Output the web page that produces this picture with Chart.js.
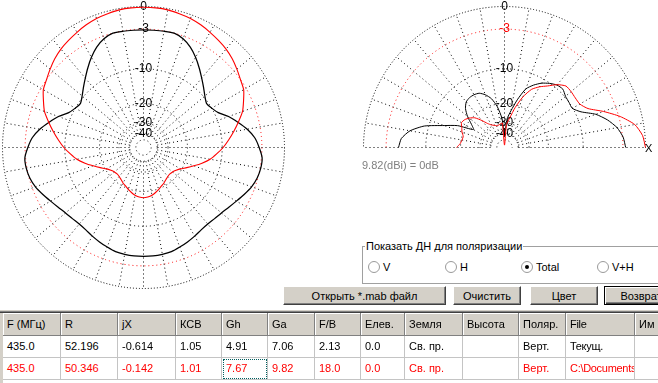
<!DOCTYPE html>
<html>
<head>
<meta charset="utf-8">
<script src="https://cdn.jsdelivr.net/npm/chart.js@4.4.1/dist/chart.umd.min.js"></script>
<style>
  html, body { margin: 0; padding: 0; }
  body { width: 658px; height: 383px; background: #fff; overflow: hidden; position: relative;
         font-family: "Liberation Sans", Arial, sans-serif; font-size: 11px; color: #000; }
  .abs { position: absolute; white-space: nowrap; }
  canvas { position: absolute; }
  .btn { position: absolute; height: 19px; line-height: 19px; text-align: center; background: #d4d0c8;
         box-sizing: border-box; border: 1px solid; border-color: #ffffff #404040 #404040 #ffffff;
         box-shadow: inset -1px -1px 0 #808080; }
  .btn.def { border: 1px solid #000; box-shadow: inset 1px 1px 0 #fff, inset -1px -1px 0 #404040, inset -2px -2px 0 #808080; }
  .radio { position: absolute; width: 12px; height: 12px; box-sizing: border-box; border-radius: 50%;
           border: 1px solid #9a9a9a; background: #fff; }
  .radio.on::after { content: ""; position: absolute; left: 3px; top: 3px; width: 4px; height: 4px; border-radius: 50%; background: #000; }
  .cell { position: absolute; box-sizing: border-box; overflow: hidden; white-space: nowrap; padding-left: 4px; }
  .hdr { background: #d4d0c8; border-right: 1px solid #808080; border-bottom: 1px solid #808080; box-shadow: inset 1px 1px 0 #fff; }
  .dat { background: #fff; border-right: 1px solid #c4c4c4; border-bottom: 1px solid #c4c4c4; }
</style>
</head>
<body>
<canvas id="az" width="290" height="292" style="left:0;top:0"></canvas>
<canvas id="el" width="308" height="148" style="left:350px;top:0"></canvas>
<div class="abs" style="left:645px;top:142px;line-height:13px;">X</div>
<div class="abs" style="left:362px;top:159px;line-height:13px;color:#808080;">9.82(dBi) = 0dB</div>

<div class="abs" style="left:362px;top:246px;width:310px;height:36px;border:1px solid #a0a0a0;box-shadow:1px 1px 0 #fff;"></div>
<div class="abs" style="left:365px;top:240px;line-height:13px;background:#fff;padding:0 1px;">Показать ДН для поляризации</div>
<div id="radios"></div>

<div class="btn" style="left:283px;top:286px;width:163px;">Открыть *.mab файл</div>
<div class="btn" style="left:453px;top:286px;width:68px;">Очистить</div>
<div class="btn" style="left:530px;top:286px;width:68px;">Цвет</div>
<div class="btn def" style="left:604px;top:286px;width:80px;padding-right:6px;">Возврат</div>

<div class="abs" style="left:0;top:310px;width:658px;height:1px;background:#d4d0c8;"></div>
<div class="abs" style="left:0;top:311px;width:658px;height:1px;background:#808080;"></div>
<div class="abs" style="left:0;top:312px;width:658px;height:1px;background:#404040;"></div>
<div id="grid"></div>
<div class="abs" style="left:0;top:313px;width:3px;height:70px;background:#d4d0c8;"></div>

<script>
// ---------- data ----------
const azimuthDeg = [0,5,10,15,20,25,30,35,40,45,50,55,60,65,70,75,80,85,90,95,100,105,110,115,120,125,130,135,140,145,150,155,160,165,170,175,
  180,185,190,195,200,205,210,215,220,225,230,235,240,245,250,255,260,265,270,275,280,285,290,295,300,305,310,315,320,325,330,335,340,345,350,355];

// horizontal pattern, dB relative to 9.82 dBi
const azRedDb = [-0.1,-0.1,-0.15,-0.3,-0.45,-0.7,-1.0,-1.3,-1.6,-2.0,-2.5,-3.0,-3.4,-4.2,-5.0,-6.2,-7.4,-8.6,-9.8,-11.2,-12.6,-14.5,-16.6,-18.6,
  -20.5,-21.7,-22.5,-22.8,-22.6,-22.0,-21.2,-20.6,-19.8,-19.0,-18.3,-17.9,
  -17.7,-17.9,-18.3,-19.0,-19.8,-20.6,-21.2,-22.0,-22.6,-22.8,-22.5,-21.7,-20.5,-18.6,-16.6,-14.5,-12.6,-11.2,
  -9.8,-8.6,-7.4,-6.2,-5.0,-4.2,-3.4,-3.0,-2.5,-2.0,-1.6,-1.3,-1.0,-0.7,-0.45,-0.3,-0.15,-0.1];
const azBlackDb = [-3.1,-3.1,-3.05,-3.0,-3.4,-4.15,-5.2,-6.4,-7.6,-8.7,-9.7,-10.4,-10.0,-9.2,-7.6,-6.3,-5.0,-4.0,-3.4,-2.9,-2.9,-3.1,-3.5,-4.1,
  -4.7,-5.2,-5.6,-5.8,-5.9,-5.8,-5.5,-5.2,-4.9,-4.6,-4.5,-4.45,
  -4.45,-4.45,-4.5,-4.6,-4.9,-5.2,-5.5,-5.8,-5.9,-5.8,-5.6,-5.2,-4.7,-4.1,-3.5,-3.1,-2.9,-2.9,
  -3.4,-4.0,-5.0,-6.3,-7.6,-9.2,-10.0,-10.4,-9.7,-8.7,-7.6,-6.4,-5.2,-4.15,-3.4,-3.0,-3.05,-3.1];

const elevationDeg = [0,5,10,15,20,25,30,35,40,45,50,55,60,65,70,75,80,85,90,95,100,105,110,115,120,125,130,135,140,145,150,155,160,165,170,175,180];
const elRedDb = [0.0,-0.3,-1.1,-2.8,-5.0,-7.3,-8.3,-8.4,-8.3,-8.3,-9.3,-10.8,-12.0,-13.5,-16.5,-21.0,-26.5,-31.0,-70,
  -30.0,-30.5,-31.0,-31.0,-30.0,-29.0,-27.0,-23.8,-20.8,-19.3,-18.3,-17.9,-18.8,-19.5,-20.5,-20.3,-19.8,-18.5];
const elBlackDb = [-2.6,-2.9,-3.6,-4.8,-6.4,-8.8,-10.1,-10.0,-9.8,-9.2,-9.4,-10.1,-11.0,-12.3,-14.0,-18.0,-22.8,-27.5,-42,
  -27.0,-21.0,-17.6,-15.8,-14.7,-14.4,-14.4,-14.8,-16.1,-18.4,-21.5,-23.5,-17.2,-13.5,-9.1,-6.6,-5.3,-4.9];

const gridDb = [-50, -40, -30, -20, -10, -3, 0];
const gridTickLabels = ['', '-40', '-30', '-20', '-10', '-3', '0'];

const polarisations = ['V', 'H', 'Total', 'V+H'];
const tableHeaders = ['F (МГц)', 'R', 'jX', 'КСВ', 'Gh', 'Ga', 'F/B', 'Елев.', 'Земля', 'Высота', 'Поляр.', 'File', 'Им'];
const tableRow1 = ['435.0', '52.196', '-0.614', '1.05', '4.91', '7.06', '2.13', '0.0', 'Св. пр.', '', 'Верт.', 'Текущ.', ''];
const tableRow2 = ['435.0', '50.346', '-0.142', '1.01', '7.67', '9.82', '18.0', '0.0', 'Св. пр.', '', 'Верт.', 'C:\\Documents and Settings', ''];

// ---------- helpers ----------
function dbToRadius(db) { return Math.pow(0.89, -db / 2); } // ARRL log scale
const spokeDash = [0, 14];
for (let k = 0; k < 34; k++) spokeDash.push(1, 3);

function elevToRadar(values) {
  const out = azimuthDeg.map(() => null);
  elevationDeg.forEach((e, k) => {
    const a = ((90 - e) % 360 + 360) % 360;
    out[azimuthDeg.indexOf(a)] = dbToRadius(values[k]);
  });
  return out;
}

function makePolar(id, datasets, geom, minus3Red) {
  return new Chart(document.getElementById(id), {
    type: 'radar',
    data: { labels: azimuthDeg, datasets: datasets },
    options: {
      responsive: false, animation: false, devicePixelRatio: 1,
      layout: { padding: 0 },
      plugins: { legend: { display: false }, tooltip: { enabled: false } },
      elements: { point: { radius: 0, hitRadius: 0, hoverRadius: 0 }, line: { tension: 0.2, fill: false } },
      scales: {
        r: {
          min: 0, max: 1, startAngle: 0,
          afterBuildTicks: s => { s.ticks = [{ value: 0 }].concat(gridDb.map(d => ({ value: dbToRadius(d) }))); },
          afterFit: s => { s.xCenter = geom.cx; s.yCenter = geom.cy; s.drawingArea = geom.r; },
          grid: { circular: true, lineWidth: 1, color: c => gridDb[c.index - 1] === -3 ? '#ff0000' : '#000000' },
          border: { dash: c => gridDb[c.index - 1] === 0 ? [1, 2] : [1, 3] },
          angleLines: { display: true, color: '#000000', lineWidth: c => (c.index % 2 === 0 ? 1 : 0), borderDash: spokeDash },
          pointLabels: { display: false },
          ticks: {
            display: true, autoSkip: false, showLabelBackdrop: false, z: 0,
            font: { family: 'Liberation Sans', size: 12 },
            color: c => (minus3Red && gridDb[c.index - 1] === -3) ? '#ff0000' : '#000000',
            callback: (v, i) => (i === 0 ? '' : gridTickLabels[i - 1])
          }
        }
      }
    }
  });
}

makePolar('az', [
  { data: azRedDb.map(dbToRadius), borderColor: '#ff0000', borderWidth: 1.1, order: 0 },
  { data: azBlackDb.map(dbToRadius), borderColor: '#000000', borderWidth: 1.25, order: 1 }
], { cx: 143.5, cy: 147.5, r: 141 }, false);

makePolar('el', [
  { data: elevToRadar(elRedDb), borderColor: '#ff0000', borderWidth: 1.0, order: 0, spanGaps: false },
  { data: elevToRadar(elBlackDb), borderColor: '#000000', borderWidth: 1.0, order: 1, spanGaps: false }
], { cx: 154.5, cy: 147.5, r: 141 }, true);

// ---------- radio group ----------
const radioX = [368, 445, 521, 597];
const radios = document.getElementById('radios');
polarisations.forEach((p, i) => {
  const c = document.createElement('div');
  c.className = 'radio' + (p === 'Total' ? ' on' : '');
  c.style.left = radioX[i] + 'px'; c.style.top = '261px';
  radios.appendChild(c);
  const t = document.createElement('div');
  t.className = 'abs'; t.textContent = p;
  t.style.left = (radioX[i] + 15) + 'px'; t.style.top = '261px'; t.style.lineHeight = '13px';
  radios.appendChild(t);
});

// ---------- table ----------
const colEdges = [3, 61, 118, 176, 222, 268, 315, 361, 405, 463, 519, 566, 635, 700];
const rowTops = [313, 336, 358, 380];
const gridEl = document.getElementById('grid');
[tableHeaders, tableRow1, tableRow2].forEach((row, r) => {
  row.forEach((txt, c) => {
    const d = document.createElement('div');
    d.className = 'cell ' + (r === 0 ? 'hdr' : 'dat');
    d.style.left = colEdges[c] + 'px';
    d.style.width = (colEdges[c + 1] - colEdges[c]) + 'px';
    d.style.top = rowTops[r] + 'px';
    const h = rowTops[r + 1] - rowTops[r];
    d.style.height = h + 'px';
    d.style.lineHeight = (h - 1) + 'px';
    if (r === 2) d.style.color = '#ff0000';
    if (c === 11) d.style.letterSpacing = '-0.3px';
    d.textContent = txt;
    if (r === 2 && c === 4) d.style.outline = '1px dotted #006060', d.style.outlineOffset = '-2px';
    gridEl.appendChild(d);
  });
});
</script>
</body>
</html>
